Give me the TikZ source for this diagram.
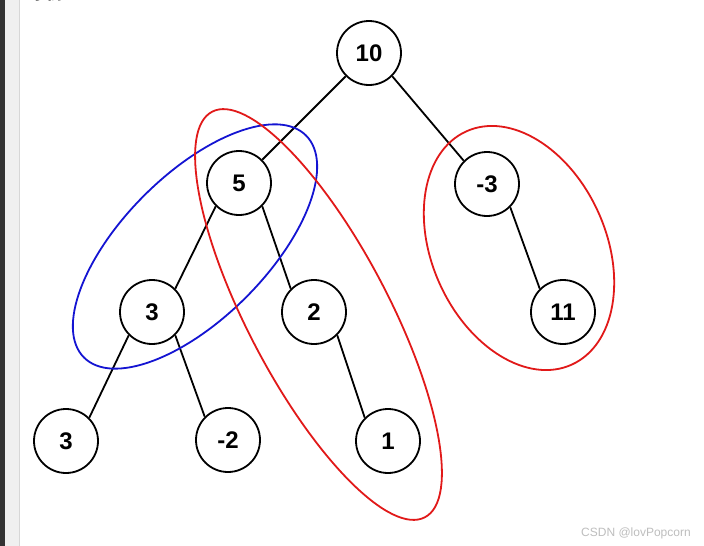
\documentclass[tikz,border=0pt]{standalone}
\usepackage{fontspec}
\setmainfont{Liberation Sans}
\newfontfamily\cjkfont{Noto Sans CJK SC}
\definecolor{ringblue}{RGB}{20,20,210}
\definecolor{ringred}{RGB}{225,25,25}
\definecolor{sidedark}{RGB}{51,51,51}
\definecolor{sidelight}{RGB}{240,240,240}
\definecolor{sideline}{RGB}{215,215,215}
\definecolor{wmgray}{RGB}{190,190,190}
\begin{document}
\begin{tikzpicture}[x=1pt,y=1pt,
  tnode/.style={circle,draw=black,line width=1.8pt,fill=white,minimum size=64pt,inner sep=0pt,
    font=\fontsize{24}{24}\selectfont\bfseries},
  tedge/.style={line width=1.8pt,black},
  ring/.style={line width=1.8pt}]
\useasboundingbox (0,-546) rectangle (704,0);
\fill[white] (0,-546) rectangle (704,0);
\fill[sidedark] (0,-546) rectangle (5,0);
\fill[sidelight] (5,-546) rectangle (19,0);
\draw[sideline,line width=1pt] (19.5,-546) -- (19.5,0);
\node[anchor=base west,inner sep=0pt,font=\cjkfont\fontsize{16}{16}\selectfont\bfseries] (title) at (31,1) {示例 1：};
% nodes
\node[tnode] (n10) at (369,-53) {10};
\node[tnode] (n5) at (239,-183) {5};
\node[tnode] (nm3) at (487,-184) {-3};
\node[tnode] (n3a) at (152,-312) {3};
\node[tnode] (n2) at (314,-312) {2};
\node[tnode] (n11) at (563,-312) {11};
\node[tnode] (n3b) at (66,-441) {3};
\node[tnode] (nm2) at (228,-440) {-2};
\node[tnode] (n1) at (388,-441) {1};
% edges (left child: parent.225 to child.45; right child: parent.-45 to child.135)
\draw[tedge] (n10.225) -- (n5.45);
\draw[tedge] (n10.-45) -- (nm3.135);
\draw[tedge] (n5.225) -- (n3a.45);
\draw[tedge] (n5.-45) -- (n2.135);
\draw[tedge] (n3a.225) -- (n3b.45);
\draw[tedge] (n3a.-45) -- (nm2.135);
\draw[tedge] (n2.-45) -- (n1.135);
\draw[tedge] (nm3.-45) -- (n11.135);
% rings
\draw[ring,ringblue] (195,-246.5) ellipse [x radius=157, y radius=72, rotate=45];
\draw[ring,ringred] (318.5,-314.5) ellipse [x radius=229, y radius=70.5, rotate=-62.3];
\draw[ring,ringred] (519,-248) ellipse [x radius=128, y radius=87, rotate=-65.7];
% watermark
\node[anchor=west,inner sep=0pt,text=wmgray,font=\fontsize{12}{12}\selectfont] (wm) at (581,-533) {CSDN @lovPopcorn};
\end{tikzpicture}
\end{document}
